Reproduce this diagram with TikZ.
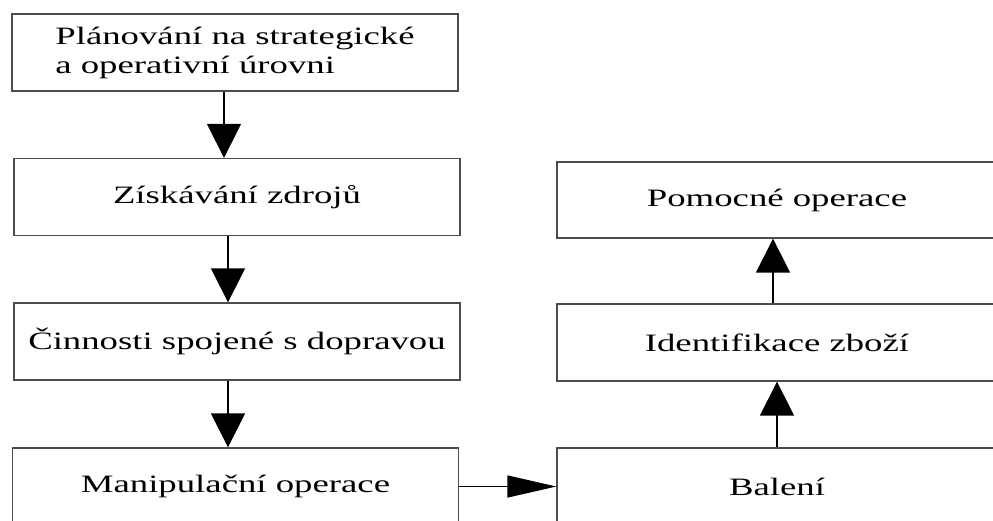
\documentclass[tikz,border=0pt]{standalone}
\usepackage{fontspec}
\setmainfont{Liberation Serif}[FakeStretch=1.47]
\usetikzlibrary{arrows.meta}

\begin{document}
\begin{tikzpicture}[x=1pt,y=-1pt,
	box/.style={draw=black!70,line width=1.3pt,minimum width=446pt,minimum height=77pt,inner sep=0pt,font=\fontsize{25}{29}\selectfont},
	down/.style={line width=1.4pt,-{Triangle[length=34pt,width=34pt]}},
	side/.style={line width=1.4pt,-{Triangle[length=49pt,width=22pt]}}]
	\useasboundingbox (0,0) rectangle (993,520);
	\clip (0,0) rectangle (993,520);
	% left column
	\node[box,align=left] (plan) at (235,52.5) {Plánování na strategické\\a operativní úrovni};
	\node[box] (zdroje) at (237,197) {Získávání zdrojů};
	\node[box] (doprava) at (237,341.5) {Činnosti spojené s dopravou};
	\node[box] (manip) at (235.5,486.5) {Manipulační operace};
	% right column
	\node[box,minimum width=440pt,minimum height=76pt] (pomoc) at (777,200) {Pomocné operace};
	\node[box,minimum width=440pt] (ident) at (777,342.5) {Identifikace zboží};
	\node[box,minimum width=440pt] (baleni) at (777,486.5) {Balení};
	% arrows
	\draw[down] ([xshift=-11pt]plan.south) -- ([xshift=-11pt]plan.south |- zdroje.north);
	\draw[down] ([xshift=-9pt]zdroje.south) -- ([xshift=-9pt]zdroje.south |- doprava.north);
	\draw[down] ([xshift=-9pt]doprava.south) -- ([xshift=-9pt]doprava.south |- manip.north);
	\draw[side] (manip.east) -- (baleni.west);
	\draw[down] (baleni.north) -- (ident.south);
	\draw[down] ([xshift=-4pt]ident.north) -- ([xshift=-4pt]ident.north |- pomoc.south);
\end{tikzpicture}
\end{document}
